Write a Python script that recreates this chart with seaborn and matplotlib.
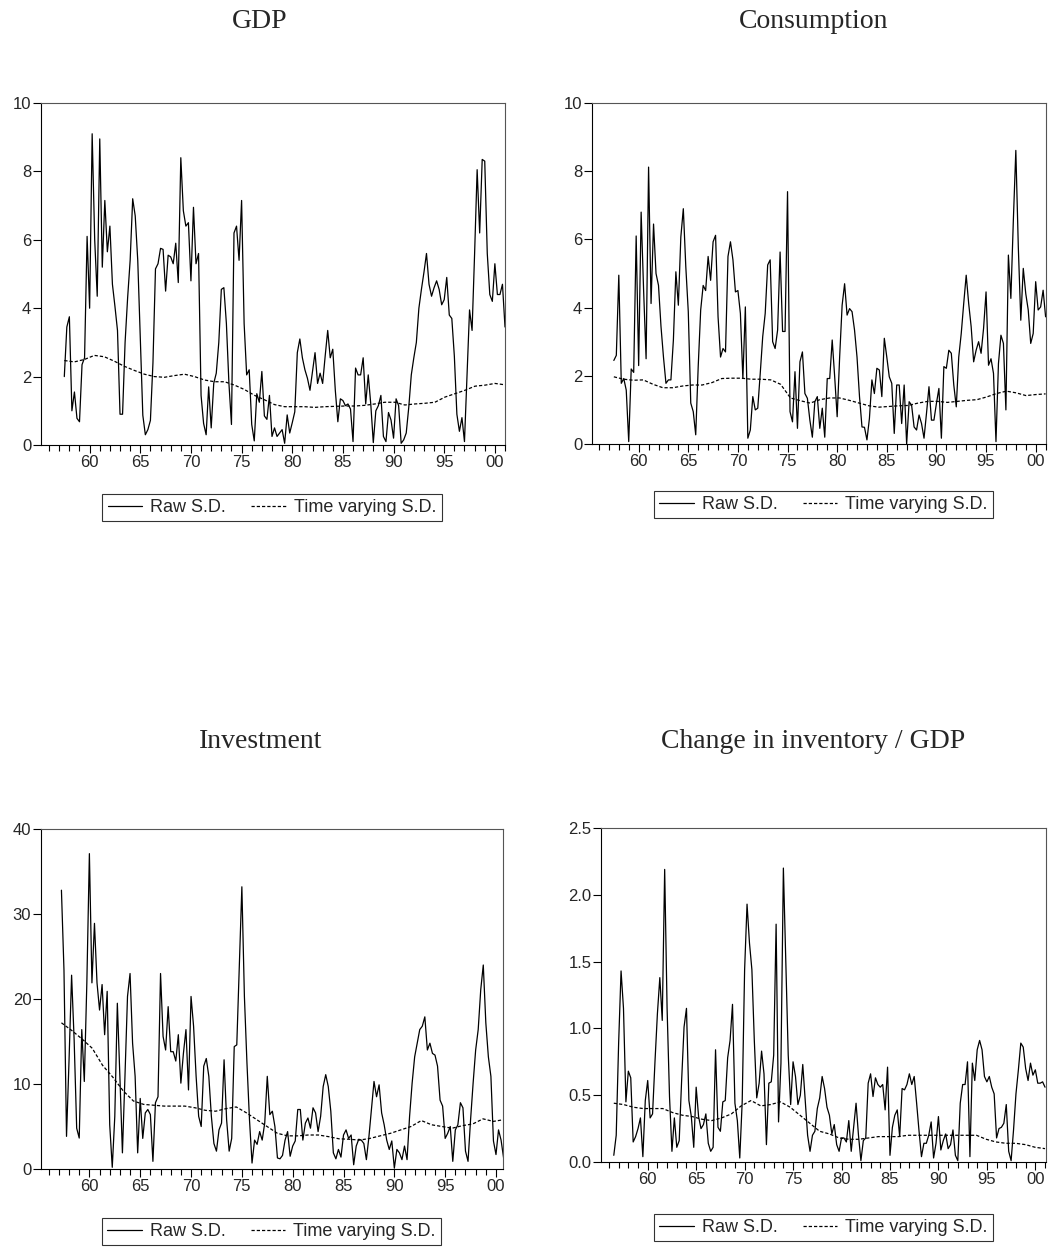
import numpy as np
import pandas as pd
import matplotlib
matplotlib.use("Agg")
import matplotlib.pyplot as plt
from matplotlib.lines import Line2D
from matplotlib.ticker import MultipleLocator, FixedLocator, FuncFormatter
import seaborn as sns

# ---------------- data ----------------
titles = ["GDP", "Consumption", "Investment", "Change in inventory / GDP"]
legend_labels = ["Raw S.D.", "Time varying S.D."]

gdp_raw = [2.0, 3.45, 3.75, 1.0, 1.55, 0.78, 0.68, 2.35, 2.55, 6.1, 4.0, 9.1, 6.0, 4.35, 8.95,
           5.2, 7.15, 5.65, 6.4, 4.7, 4.05, 3.35, 0.9, 0.9, 3.0, 4.3, 5.4, 7.2, 6.7, 5.4,
           3.1, 0.87, 0.3, 0.45, 0.72, 2.4, 5.15, 5.3, 5.75, 5.72, 4.5, 5.55, 5.5, 5.3, 5.9,
           4.75, 8.4, 6.85, 6.4, 6.5, 4.8, 6.95, 5.3, 5.6, 1.45, 0.63, 0.3, 1.7, 0.5, 1.8,
           2.1, 3.0, 4.55, 4.6, 3.55, 1.8, 0.6, 6.2, 6.4, 5.4, 7.15, 3.55, 2.05, 2.2, 0.6,
           0.12, 1.5, 1.25, 2.15, 0.85, 0.75, 1.45, 0.25, 0.5, 0.25, 0.35, 0.45, 0.05, 0.88, 0.35,
           0.65, 0.97, 2.7, 3.1, 2.55, 2.2, 1.95, 1.6, 2.15, 2.7, 1.8, 2.1, 1.8, 2.6, 3.35,
           2.55, 2.8, 1.6, 0.68, 1.35, 1.3, 1.15, 1.2, 1.05, 0.1, 2.25, 2.05, 2.05, 2.55, 1.2,
           2.05, 1.2, 0.07, 1.0, 1.15, 1.45, 0.25, 0.1, 0.95, 0.73, 0.2, 1.35, 1.15, 0.05, 0.15,
           0.35, 1.1, 2.05, 2.55, 3.0, 4.0, 4.55, 5.05, 5.6, 4.7, 4.35, 4.6, 4.8, 4.55, 4.1,
           4.25, 4.9, 3.8, 3.7, 2.6, 0.9, 0.4, 0.8, 0.1, 2.0, 3.95, 3.35, 5.6, 8.05, 6.2,
           8.35, 8.3, 5.6, 4.4, 4.2, 5.3, 4.4, 4.4, 4.7, 3.45]
gdp_tv = [2.47, 2.43, 2.5, 2.62, 2.58, 2.45, 2.3, 2.18, 2.07, 2.0, 1.98, 2.03, 2.07, 2.0, 1.9,
          1.85, 1.85, 1.75, 1.62, 1.45, 1.32, 1.18, 1.12, 1.12, 1.12, 1.1, 1.12, 1.13, 1.14, 1.14,
          1.16, 1.2, 1.25, 1.25, 1.17, 1.2, 1.22, 1.25, 1.4, 1.5, 1.6, 1.72, 1.75, 1.8, 1.76]

cons_raw = [2.45, 2.6, 4.95, 1.78, 1.92, 1.58, 0.07, 2.2, 2.1, 6.1, 2.3, 6.8, 4.5, 2.5, 8.12,
            4.12, 6.45, 5.0, 4.65, 3.45, 2.55, 1.78, 1.88, 1.88, 3.05, 5.05, 4.07, 6.07, 6.9, 5.2,
            3.88, 1.2, 0.95, 0.27, 2.27, 3.93, 4.65, 4.5, 5.5, 4.8, 5.93, 6.12, 3.73, 2.55, 2.8,
            2.7, 5.5, 5.93, 5.4, 4.46, 4.5, 3.83, 1.92, 4.02, 0.17, 0.41, 1.39, 1.0, 1.05, 2.07,
            3.15, 3.83, 5.25, 5.4, 3.0, 2.8, 3.34, 5.63, 3.3, 3.3, 7.4, 0.95, 0.65, 2.12, 0.46,
            2.41, 2.7, 1.48, 1.34, 0.7, 0.2, 1.24, 1.39, 0.46, 1.05, 0.2, 1.92, 1.92, 3.05, 1.97,
            0.8, 2.55, 4.07, 4.7, 3.78, 3.97, 3.88, 3.34, 2.55, 1.39, 0.5, 0.49, 0.12, 0.75, 1.88,
            1.48, 2.22, 2.17, 1.39, 3.1, 2.55, 1.97, 1.78, 0.31, 1.73, 1.73, 0.6, 1.73, 0.0, 1.24,
            1.14, 0.5, 0.41, 0.85, 0.6, 0.17, 0.9, 1.68, 0.7, 0.7, 1.19, 1.63, 0.17, 2.27, 2.22,
            2.75, 2.66, 1.73, 1.09, 2.55, 3.24, 4.12, 4.95, 4.12, 3.44, 2.41, 2.75, 3.0, 2.66, 3.39,
            4.46, 2.31, 2.5, 2.07, 0.07, 2.36, 3.19, 2.95, 1.0, 5.54, 4.27, 6.56, 8.61, 5.78, 3.63,
            5.15, 4.41, 3.93, 2.95, 3.24, 4.76, 3.93, 4.02, 4.51, 3.73]
cons_tv = [1.97, 1.9, 1.87, 1.88, 1.75, 1.65, 1.65, 1.7, 1.73, 1.73, 1.8, 1.92, 1.93, 1.93, 1.9,
           1.9, 1.88, 1.75, 1.35, 1.27, 1.2, 1.3, 1.35, 1.35, 1.28, 1.2, 1.12, 1.08, 1.1, 1.12,
           1.13, 1.2, 1.25, 1.25, 1.22, 1.25, 1.28, 1.3, 1.38, 1.48, 1.55, 1.5, 1.42, 1.45, 1.47]

inv_raw = [32.8, 23.4, 3.84, 12.85, 22.8, 15.2, 4.8, 3.64, 16.4, 10.3, 21.9, 37.1, 21.9, 28.9, 21.9,
           18.7, 21.7, 15.8, 20.9, 5.2, 0.2, 6.2, 19.5, 10.9, 1.9, 10.9, 20.3, 23.0, 14.8, 10.9,
           1.9, 8.3, 3.6, 6.6, 7.0, 6.4, 0.9, 7.8, 8.5, 23.0, 15.6, 14.0, 19.1, 13.8, 13.8,
           12.7, 15.8, 10.1, 13.6, 16.4, 9.3, 20.3, 16.8, 10.9, 6.2, 5.0, 12.1, 13.0, 10.9, 6.2,
           3.0, 2.1, 4.6, 5.4, 12.85, 5.8, 2.1, 3.6, 14.4, 14.6, 23.8, 33.2, 20.3, 12.5, 5.8,
           0.7, 3.4, 2.9, 4.4, 3.4, 5.4, 10.9, 6.4, 6.8, 5.0, 1.3, 1.2, 1.6, 3.4, 4.4,
           1.5, 2.7, 3.3, 7.0, 7.0, 3.4, 5.4, 6.0, 4.8, 7.2, 6.6, 4.4, 6.2, 9.7, 11.1,
           9.7, 6.8, 1.9, 1.2, 2.3, 1.4, 4.0, 4.6, 3.6, 4.0, 0.5, 2.7, 3.5, 3.4, 3.0,
           1.1, 3.8, 7.0, 10.3, 8.5, 9.9, 6.6, 5.2, 3.4, 2.3, 3.3, 0.1, 2.3, 1.9, 1.1,
           2.7, 1.1, 6.2, 10.1, 13.2, 14.8, 16.4, 16.8, 17.9, 14.0, 14.8, 13.6, 13.4, 12.1, 8.1,
           7.4, 3.6, 4.2, 5.0, 0.9, 4.6, 5.2, 7.8, 7.2, 2.1, 0.9, 5.8, 10.1, 14.0, 16.4,
           21.1, 24.0, 17.2, 13.2, 10.9, 3.3, 1.7, 4.6, 3.4, 1.3]
inv_tv = [17.2, 16.3, 15.3, 14.2, 12.2, 10.8, 9.2, 8.0, 7.6, 7.5, 7.4, 7.4, 7.4, 7.2, 6.9,
          6.8, 7.1, 7.3, 6.6, 5.8, 5.0, 4.2, 3.9, 3.9, 4.0, 4.0, 3.8, 3.55, 3.5, 3.4,
          3.6, 3.9, 4.2, 4.6, 5.0, 5.7, 5.2, 5.0, 4.8, 5.1, 5.3, 5.9, 5.6, 5.8]

ci_raw = [0.05, 0.2, 0.89, 1.43, 1.15, 0.45, 0.68, 0.63, 0.15, 0.19, 0.25, 0.33, 0.04, 0.46, 0.61,
          0.33, 0.36, 0.75, 1.11, 1.38, 1.06, 2.19, 1.15, 0.49, 0.08, 0.33, 0.11, 0.16, 0.61, 1.01,
          1.15, 0.46, 0.34, 0.11, 0.56, 0.34, 0.25, 0.28, 0.36, 0.14, 0.08, 0.11, 0.84, 0.26, 0.23,
          0.45, 0.46, 0.78, 0.91, 1.18, 0.44, 0.31, 0.03, 0.45, 1.44, 1.93, 1.64, 1.44, 0.91, 0.48,
          0.59, 0.83, 0.66, 0.13, 0.59, 0.6, 0.8, 1.78, 0.3, 0.74, 2.2, 1.5, 0.8, 0.43, 0.75,
          0.64, 0.43, 0.5, 0.73, 0.46, 0.2, 0.08, 0.2, 0.23, 0.4, 0.48, 0.64, 0.55, 0.41, 0.35,
          0.21, 0.28, 0.13, 0.08, 0.18, 0.18, 0.15, 0.31, 0.08, 0.26, 0.44, 0.2, 0.01, 0.16, 0.18,
          0.59, 0.66, 0.49, 0.63, 0.58, 0.56, 0.58, 0.39, 0.71, 0.05, 0.26, 0.35, 0.39, 0.19, 0.55,
          0.54, 0.58, 0.66, 0.58, 0.64, 0.44, 0.23, 0.04, 0.14, 0.14, 0.2, 0.3, 0.03, 0.14, 0.34,
          0.09, 0.16, 0.21, 0.1, 0.13, 0.24, 0.05, 0.01, 0.44, 0.58, 0.58, 0.75, 0.04, 0.74, 0.61,
          0.84, 0.91, 0.84, 0.64, 0.6, 0.64, 0.56, 0.51, 0.18, 0.25, 0.26, 0.29, 0.43, 0.08, 0.01,
          0.24, 0.51, 0.69, 0.89, 0.86, 0.7, 0.61, 0.74, 0.65, 0.69, 0.59, 0.59, 0.6, 0.56]
ci_tv = [0.44, 0.43, 0.41, 0.4, 0.4, 0.4, 0.37, 0.35, 0.34, 0.32, 0.31, 0.33, 0.36, 0.42, 0.46,
         0.42, 0.43, 0.45, 0.41, 0.35, 0.29, 0.23, 0.21, 0.18, 0.17, 0.17, 0.18, 0.19, 0.19, 0.19,
         0.2, 0.2, 0.2, 0.2, 0.2, 0.2, 0.2, 0.2, 0.17, 0.15, 0.14, 0.14, 0.13, 0.11, 0.1]

raw_series = [gdp_raw, cons_raw, inv_raw, ci_raw]
tv_series = [gdp_tv, cons_tv, inv_tv, ci_tv]
last_quarter = [2001.0, 2001.0, 2000.75, 2001.0]
y_limits = [(0, 10), (0, 10), (0, 40), (0, 2.5)]
y_ticks = [[0, 2, 4, 6, 8, 10], [0, 2, 4, 6, 8, 10], [0, 10, 20, 30, 40],
           [0.0, 0.5, 1.0, 1.5, 2.0, 2.5]]
y_fmt = ["{:.0f}", "{:.0f}", "{:.0f}", "{:.1f}"]
x_major = [1960, 1965, 1970, 1975, 1980, 1985, 1990, 1995, 2000]

# ---------------- layout ----------------
W, H = 1063, 1247
sns.set_style("ticks")
plt.rcParams["font.family"] = ["Liberation Sans", "DejaVu Sans"]

fig = plt.figure(figsize=(W / 100, H / 100), dpi=100)

# axes boxes in pixels: left, top, right, bottom
boxes = [(41, 103, 505, 445), (592, 103, 1046, 444), (41, 829, 503, 1169), (601, 828, 1046, 1162)]
xlims = [(1955.2, 2001.0), (1955.3, 2001.04), (1955.24, 2000.69), (1955.18, 2001.1)]
title_pos = [(260, 21), (814, 21), (261, 741), (813, 741)]
legend_pos = [(272, 507.5), (823.5, 504.5), (271.5, 1231.5), (823.5, 1227.5)]
dash = (0, (2.6, 1.6))

for i in range(4):
    l, t, r, b = boxes[i]
    ax = fig.add_axes([l / W, 1 - b / H, (r - l) / W, (b - t) / H])
    raw = np.asarray(raw_series[i], dtype=float)
    n = len(raw)
    xr = last_quarter[i] - 0.25 * np.arange(n)[::-1]
    tv = np.asarray(tv_series[i], dtype=float)
    xt = np.linspace(xr[0], xr[-1], len(tv))
    df_raw = pd.DataFrame({"t": xr, "v": raw})
    df_tv = pd.DataFrame({"t": xt, "v": tv})
    sns.lineplot(data=df_raw, x="t", y="v", ax=ax, color="black", linewidth=0.9)
    sns.lineplot(data=df_tv, x="t", y="v", ax=ax, color="black", linewidth=0.9,
                 linestyle=dash)
    ax.set_xlim(*xlims[i])
    ax.set_ylim(*y_limits[i])
    ax.set_xlabel("")
    ax.set_ylabel("")
    ax.xaxis.set_major_locator(FixedLocator(x_major))
    ax.xaxis.set_minor_locator(MultipleLocator(1))
    ax.xaxis.set_major_formatter(FuncFormatter(lambda v, p: f"{int(round(v)) % 100:02d}"))
    ax.set_yticks(y_ticks[i])
    fmt = y_fmt[i]
    ax.set_yticklabels([fmt.format(v) for v in y_ticks[i]])
    ax.tick_params(axis="both", which="major", direction="out", length=5.5, width=0.8,
                   color="black", labelsize=12, pad=1.5)
    ax.tick_params(axis="both", which="minor", direction="out", length=4.5, width=0.8,
                   color="black")
    for s in ax.spines.values():
        s.set_visible(True)
        s.set_linewidth(0.8)
        s.set_color("black")
    ax.spines["right"].set_color("#555555")
    ax.spines["top"].set_color("#555555")
    if ax.get_legend() is not None:
        ax.get_legend().remove()

    tx, ty = title_pos[i]
    fig.text(tx / W, 1 - ty / H, titles[i], ha="center", va="center",
             fontsize=20, family=["Liberation Serif", "DejaVu Serif"])

    handles = [Line2D([], [], color="black", lw=0.9),
               Line2D([], [], color="black", lw=0.9, linestyle=dash)]
    lx, ly = legend_pos[i]
    leg = fig.legend(handles, legend_labels, loc="center",
                     bbox_to_anchor=(lx / W, 1 - ly / H), ncol=2, frameon=True,
                     fancybox=False, fontsize=13, handlelength=1.9, handletextpad=0.45,
                     columnspacing=1.4, borderpad=0.3, borderaxespad=0)
    leg.get_frame().set_edgecolor("black")
    leg.get_frame().set_linewidth(0.8)

fig.savefig("out.png", dpi=100, facecolor="white")
